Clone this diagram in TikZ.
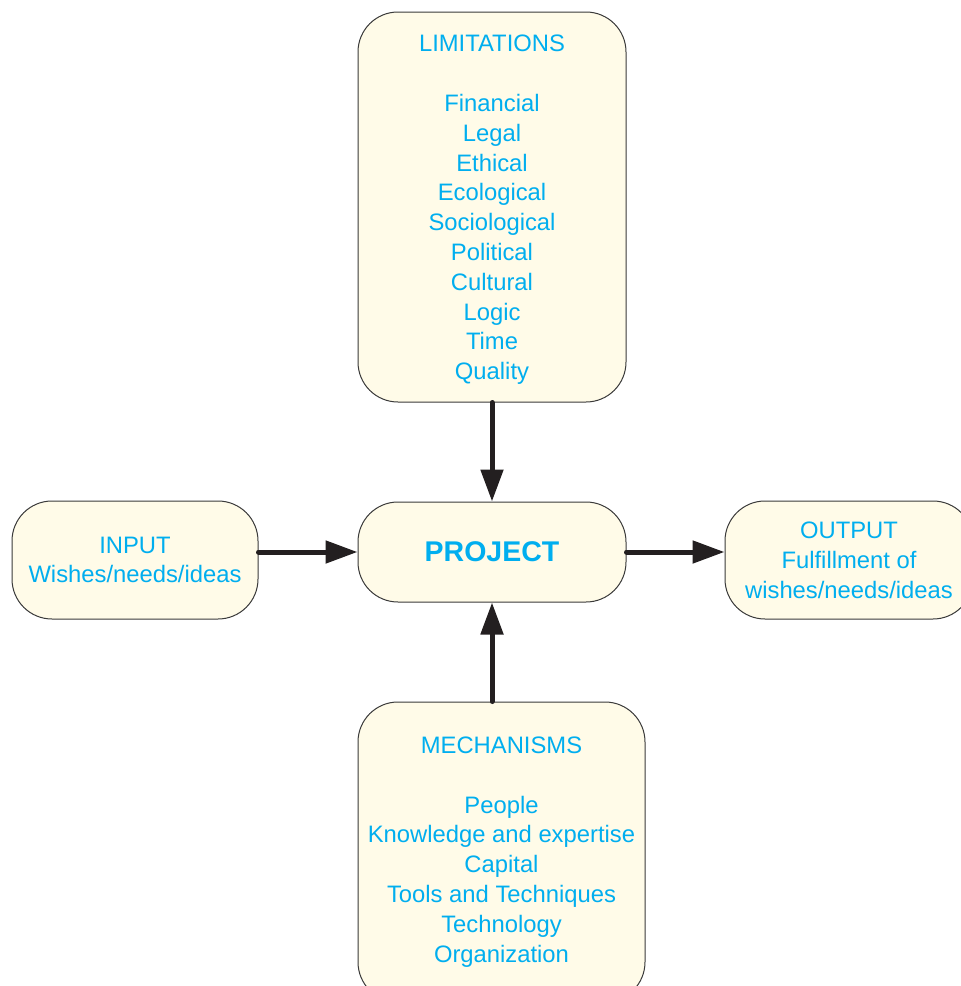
\documentclass[tikz,border=0pt]{standalone}
\usepackage{fontspec}
\setmainfont{Liberation Sans}
\usetikzlibrary{arrows.meta}
\definecolor{txtcyan}{RGB}{0,174,239}
\definecolor{boxfill}{HTML}{FFFBE8}
\definecolor{boxline}{HTML}{3A3A3A}
\definecolor{arrowcol}{HTML}{231F20}
\tikzset{
  box/.style={draw=boxline, line width=1pt, fill=boxfill, rounded corners=40pt,
    align=center, text=txtcyan, inner sep=0pt,
    font=\fontsize{23.8}{29.8}\selectfont},
  txt/.style={align=center, text=txtcyan, inner sep=0pt,
    font=\fontsize{23.8}{29.8}\selectfont},
  arr/.style={draw=arrowcol, line width=5pt, line cap=round,
    -{Triangle[length=32pt,width=22pt]}}
}
\begin{document}
\begin{tikzpicture}[x=1pt,y=-1pt]
\useasboundingbox (0,0) rectangle (961,986);
\clip (0,0) rectangle (961,986);
\node[box, minimum width=268pt, minimum height=390pt] (lim) at (492,207) {};
\node[txt] (limtext) at ([yshift=-3pt]lim.center)
  {LIMITATIONS\\[29.8pt]Financial\\Legal\\Ethical\\Ecological\\Sociological\\Political\\Cultural\\Logic\\Time\\Quality};
\node[box, minimum width=268pt, minimum height=100pt,
  font=\fontsize{28.5}{34}\selectfont\bfseries] (proj) at (492,552) {PROJECT};
\node[box, minimum width=246pt, minimum height=118pt] (inp) at (135,560)
  {INPUT\\Wishes/needs/ideas};
\node[box, minimum width=248pt, minimum height=118pt] (out) at (849,560)
  {OUTPUT\\Fulfillment of\\wishes/needs/ideas};
\node[box, minimum width=287pt, minimum height=300pt] (mech) at (501.5,852)
  {MECHANISMS\\[29.8pt]People\\Knowledge and expertise\\Capital\\Tools and Techniques\\Technology\\Organization};
\draw[arr] (lim.south) -- (proj.north);
\draw[arr] (mech.north -| proj.north) -- (proj.south);
\draw[arr] (inp.east |- proj.west) -- (proj.west);
\draw[arr] (proj.east) -- (out.west |- proj.east);
\end{tikzpicture}
\end{document}
